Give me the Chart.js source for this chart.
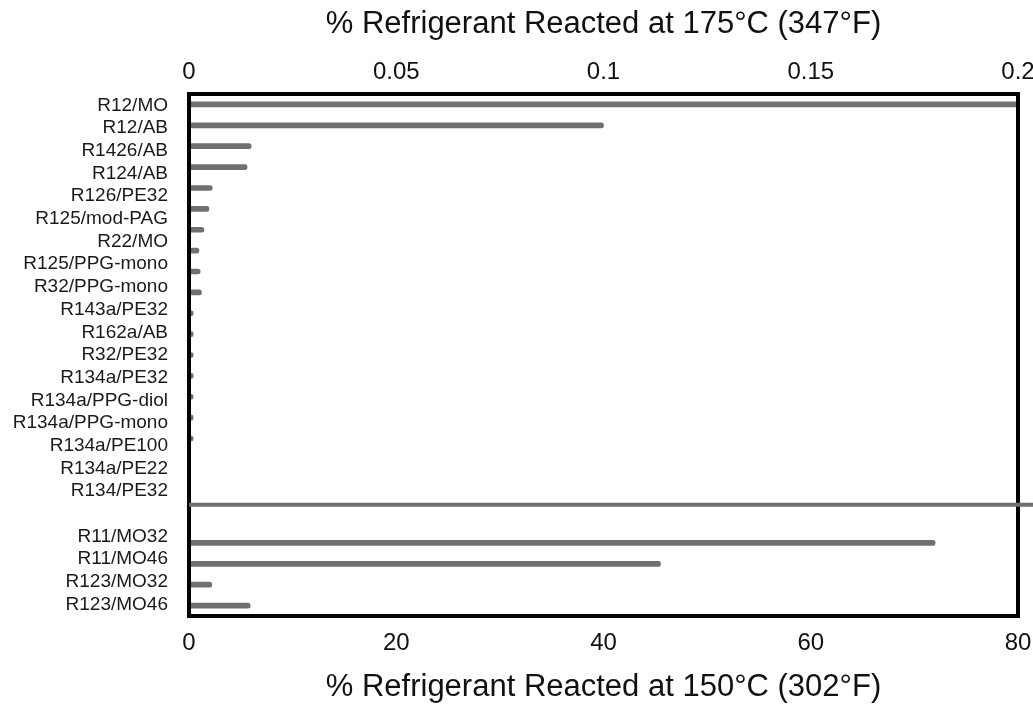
<!DOCTYPE html>
<html>
<head>
<meta charset="utf-8">
<script src="https://cdn.jsdelivr.net/npm/chart.js@4.4.1/dist/chart.umd.min.js"></script>
<style>
html,body{margin:0;padding:0;background:#fff;}
#wrap{width:1033px;height:706px;position:relative;}
</style>
</head>
<body>
<div id="wrap"><canvas id="c"></canvas></div>
<script>
// Category labels (upper block: tested at 175 °C, lower block: tested at 150 °C)
const topLabels = ['R12/MO','R12/AB','R1426/AB','R124/AB','R126/PE32','R125/mod-PAG','R22/MO','R125/PPG-mono','R32/PPG-mono','R143a/PE32','R162a/AB','R32/PE32','R134a/PE32','R134a/PPG-diol','R134a/PPG-mono','R134a/PE100','R134a/PE22','R134/PE32'];
const bottomLabels = ['R11/MO32','R11/MO46','R123/MO32','R123/MO46'];
// % refrigerant reacted at 175 °C (one bar per upper label, last label has none)
const values175 = [0.2, 0.1, 0.015, 0.014, 0.0056, 0.0048, 0.0036, 0.0024, 0.0027, 0.003, 0.001, 0.001, 0.001, 0.001, 0.001, 0.001, 0.001];
// % refrigerant reacted at 150 °C
const values150 = [72, 45.5, 2.2, 5.9];
// Tick labels
const ticks175 = [0, 0.05, 0.1, 0.15, 0.2];
const ticks150 = [0, 20, 40, 60, 80];
const title175 = '% Refrigerant Reacted at 175\u00B0C (347\u00B0F)';
const title150 = '% Refrigerant Reacted at 150\u00B0C (302\u00B0F)';

// Visible label axis: upper labels, a gap, lower labels
const labelAxis = topLabels.concat([''], bottomLabels);
// Bar slots: upper bars, gap slots, lower bars
const GAP = 4;
const barSlots = topLabels.slice(0, values175.length).concat(Array(GAP).fill(''), bottomLabels);
const data175 = values175.concat(Array(GAP + bottomLabels.length).fill(null));
const data150 = Array(values175.length + GAP).fill(null).concat(values150);

const FONT = "'Liberation Sans', Arial, Helvetica, sans-serif";
const GREY = '#707070';

const framePlugin = {
  id: 'frame',
  afterDatasetsDraw(chart) {
    const {ctx, chartArea: a, scales} = chart;
    ctx.save();
    ctx.strokeStyle = '#000';
    ctx.lineWidth = 4;
    ctx.strokeRect(a.left, a.top, a.right - a.left, a.bottom - a.top);
    // separator between the two groups
    const y = scales.y.getPixelForValue(topLabels.length - 0.4);
    ctx.strokeStyle = GREY;
    ctx.lineWidth = 4;
    ctx.beginPath();
    ctx.moveTo(a.left, y);
    ctx.lineTo(chart.width, y);
    ctx.stroke();
    ctx.restore();
  }
};

new Chart(document.getElementById('c'), {
  type: 'bar',
  data: {
    labels: barSlots,
    datasets: [
      {label: '175', data: data175, xAxisID: 'xTop', yAxisID: 'yb', backgroundColor: GREY, barThickness: 5, borderRadius: 2.5, borderSkipped: false, grouped: false},
      {label: '150', data: data150, xAxisID: 'xBot', yAxisID: 'yb', backgroundColor: GREY, barThickness: 5, borderRadius: 2.5, borderSkipped: false, grouped: false}
    ]
  },
  options: {
    indexAxis: 'y',
    responsive: true,
    maintainAspectRatio: false,
    animation: false,
    layout: {padding: {left: 0, right: 15, top: 0, bottom: 0}},
    plugins: {legend: {display: false}, tooltip: {enabled: false}},
    scales: {
      y: {
        type: 'category', labels: labelAxis, position: 'left', offset: true,
        grid: {display: false, drawTicks: false}, border: {display: false},
        ticks: {autoSkip: false, padding: 21, color: '#1a1a1a', font: {family: FONT, size: 19}},
        afterFit(s) { s.width = 189; }
      },
      yb: {
        type: 'category', labels: barSlots, display: false, offset: true
      },
      xTop: {
        type: 'linear', position: 'top', min: 0, max: 0.2,
        grid: {display: false, drawTicks: false}, border: {display: false},
        afterBuildTicks(s) { s.ticks = ticks175.map(v => ({value: v})); },
        ticks: {padding: 7, color: '#111', font: {family: FONT, size: 24}, maxRotation: 0, callback: v => String(v)},
        title: {display: true, text: title175, color: '#111', font: {family: FONT, size: 31}, padding: {top: 6, bottom: 0}},
        afterFit(s) { s.height = 94; s.paddingLeft = 0; s.paddingRight = 0; }
      },
      xBot: {
        type: 'linear', position: 'bottom', min: 0, max: 80,
        grid: {display: false, drawTicks: false}, border: {display: false},
        afterBuildTicks(s) { s.ticks = ticks150.map(v => ({value: v})); },
        ticks: {padding: 13, color: '#111', font: {family: FONT, size: 24}, maxRotation: 0, callback: v => String(v)},
        title: {display: true, text: title150, color: '#111', font: {family: FONT, size: 31}, padding: {top: 0, bottom: 0}},
        afterFit(s) { s.height = 90; s.paddingLeft = 0; s.paddingRight = 0; }
      }
    }
  },
  plugins: [framePlugin]
});
</script>
</body>
</html>
